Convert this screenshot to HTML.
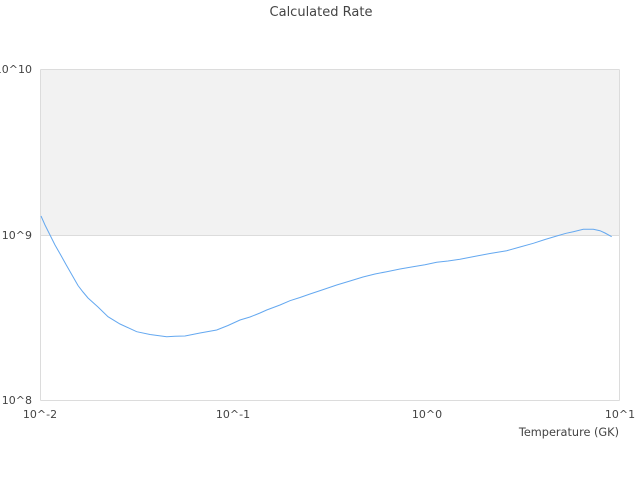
<!DOCTYPE html>
<html><head><meta charset="utf-8"><style>
html,body{margin:0;padding:0;background:#fff;}
svg{display:block;font-family:"DejaVu Sans","Liberation Sans",sans-serif;}
</style></head><body>
<svg width="640" height="480" viewBox="0 0 640 480" xmlns="http://www.w3.org/2000/svg">
<rect x="0" y="0" width="640" height="480" fill="#fff"/>
<text x="321" y="16" font-size="13" fill="#444" text-anchor="middle">Calculated Rate</text>
<rect x="40.5" y="69.5" width="579" height="166" fill="#f2f2f2"/>
<line x1="40.5" y1="69.5" x2="619.5" y2="69.5" stroke="#dcdcdc" stroke-width="1"/>
<line x1="40.5" y1="235.5" x2="619.5" y2="235.5" stroke="#dcdcdc" stroke-width="1"/>
<line x1="40.5" y1="400.5" x2="619.5" y2="400.5" stroke="#dcdcdc" stroke-width="1"/>
<line x1="40.5" y1="69.5" x2="40.5" y2="400.5" stroke="#dcdcdc" stroke-width="1"/>
<line x1="619.5" y1="69.5" x2="619.5" y2="400.5" stroke="#dcdcdc" stroke-width="1"/>
<polyline fill="none" stroke="#64a8f0" stroke-width="1" points="41,216 45,225 50,235 55,245 61.7,256.7 66,264.5 70,271.5 74,278.5 78,285.5 83,292 88,298 98,307 108,316.7 120,324 136.7,331.7 150,334.5 166.7,336.7 175,336.3 185,336 200,333 216.7,330 228,325.5 240,320 250,317 260,313 266.7,310 280,305 290,300.7 300,297.5 310,294 322,290 336.7,285 350,281 363,277 375,274 386.7,271.7 400,269 413,266.7 425,264.7 436.7,262.3 448,261 460,259.3 476.7,256 490,253.5 506.7,250.7 520,247 533.3,243.3 545,239.5 556.7,236 566,233.3 573.3,231.7 583.3,229.3 593.3,229.3 600,230.7 605,233 611.7,236.7"/>
<g font-size="11" fill="#444">
<text x="32" y="73" text-anchor="end">10^10</text>
<text x="32" y="239" text-anchor="end">10^9</text>
<text x="32" y="404" text-anchor="end">10^8</text>
<text x="40" y="418" text-anchor="middle">10^-2</text>
<text x="233" y="418" text-anchor="middle">10^-1</text>
<text x="427" y="418" text-anchor="middle">10^0</text>
<text x="620" y="418" text-anchor="middle">10^1</text>
<text x="619" y="436" text-anchor="end" font-size="11.3">Temperature (GK)</text>
</g>
</svg>
</body></html>
